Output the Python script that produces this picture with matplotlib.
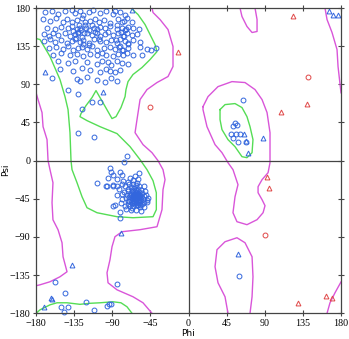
import matplotlib
matplotlib.use("Agg")
import matplotlib.pyplot as plt

# general residues (blue circles)
beta_phi = [-169, -161, -154, -146, -138, -134, -128, -124, -118, -113, -104, -97, -89, -87, -81, -75,
            -172, -163, -156, -148, -144, -138, -132, -126, -122, -116, -110, -106, -100, -93, -83, -79, -76, -73, -67,
            -167, -158, -150, -142, -138, -132, -128, -122, -118, -112, -108, -104, -98, -93, -85, -79, -75, -71, -65, -59,
            -171, -165, -160, -154, -146, -140, -134, -130, -126, -120, -114, -108, -104, -99, -95, -89, -83, -77, -73, -67, -61,
            -171, -163, -158, -150, -144, -138, -134, -128, -124, -118, -112, -104, -97, -91, -85, -81, -75, -71, -65, -57,
            -165, -156, -148, -142, -136, -130, -126, -120, -114, -108, -100, -93, -87, -81, -77, -71, -57, -49, -44, -38,
            -160, -150, -140, -132, -124, -116, -108, -102, -97, -89, -83, -77, -73, -65, -55,
            -154, -142, -134, -120, -108, -102, -95, -91, -85, -79, -71,
            -152, -136, -126, -116, -104, -97, -93, -87, -81,
            -161, -132, -128, -120, -108, -98, -91, -85,
            -142, -130, -114, -104, -126, -130, -112,
            -136, -131, -127, -123, -133, -129, -121, -125, -84, -80, -76, -72, -82, -78, -74, -86, -110, -114, -106, -118]
beta_psi = [175, 177, 173, 176, 178, 174, 177, 172, 175, 178, 174, 176, 173, 177, 175, 172,
            167, 165, 168, 164, 167, 163, 166, 168, 163, 165, 167, 164, 166, 162, 167, 163, 165, 168, 164,
            157, 155, 158, 156, 159, 155, 157, 160, 154, 157, 155, 158, 156, 159, 155, 157, 154, 158, 156, 155,
            149, 147, 150, 148, 151, 147, 149, 152, 146, 150, 148, 151, 147, 149, 152, 148, 150, 147, 151, 148, 149,
            141, 143, 140, 142, 139, 141, 144, 140, 142, 139, 143, 141, 140, 142, 139, 143, 141, 138, 142, 140,
            133, 134, 132, 135, 131, 133, 134, 132, 135, 131, 133, 134, 132, 135, 131, 133, 134, 132, 131, 133,
            125, 127, 124, 126, 123, 126, 124, 127, 125, 123, 126, 124, 127, 125, 124,
            118, 115, 117, 116, 114, 118, 116, 113, 117, 115, 114,
            108, 106, 109, 107, 105, 108, 106, 104, 107,
            98, 96, 94, 99, 95, 93, 97, 94,
            83, 79, 69, 69, 61, 33, 28,
            153, 150, 154, 151, 145, 160, 157, 137, 160, 152, 147, 139, 134, 130, 155, 142, 152, 160, 144, 136]

alpha_phi = [-73, -76, -93, -91, -89, -95, -108, -96, -89, -85, -59, -63, -89, -81, -49, -81, -79, -85, -77, -69,
             -61, -53, -51, -87, -81, -75, -67, -57, -49, -97, -89,
             -75, -72, -70, -68, -66, -64, -62, -60, -58, -56,
             -76, -73, -71, -69, -67, -65, -63, -61, -59, -57, -55, -53,
             -74, -72, -70, -68, -66, -64, -62, -60, -58, -56, -54, -52,
             -71, -69, -67, -65, -63, -61, -59, -57, -55,
             -66, -64, -62, -60, -65, -63, -61, -67, -59, -64, -62, -58, -70,
             -78, -79, -80, -74, -68, -62, -56, -52, -50, -48,
             -84, -82, -78, -72, -66, -60,
             -65, -63, -61, -59, -57, -64, -62, -60, -58, -66, -68, -56, -62, -60]
alpha_psi = [6, -1, -9, -13, -17, -20, -26, -30, -30, -30, -15, -18, -53, -68, -49, -13, -17, -22, -24, -20,
             -26, -30, -36, -52, -60, -54, -56, -52, -46, -30, -29,
             -30, -33, -28, -31, -27, -32, -29, -33, -30, -35,
             -37, -40, -36, -39, -35, -38, -36, -40, -37, -41, -38, -42,
             -44, -47, -43, -46, -42, -45, -43, -47, -44, -48, -45, -49,
             -51, -54, -50, -53, -49, -52, -50, -55, -51,
             -40, -41, -46, -42, -47, -39, -44, -44, -46, -50, -38, -40, -48,
             -45, -39, -50, -57, -58, -58, -59, -55, -40, -44,
             -40, -34, -28, -25, -23, -22,
             -43, -45, -41, -43, -46, -48, -50, -39, -48, -36, -41, -43, -35, -52]

other_phi = [-157.6, -145.8, -150.8, -142.6, -147, -121, -111.2, -96.6, -93.8, -91.8, -84.8,
             64.7, 54.9, 56.9, 52.9, 49.8, 56.1, 60.8, 52.2, 58.8, 67.9, 60]
other_psi = [-142.5, -156.2, -172, -172.7, -177.9, -166.1, -175.9, -171.2, -169.6, -169.1, -145.5,
             71.2, 44.5, 42.5, 40.5, 31.5, 31.9, 31.5, 26.8, 22.1, 21.6, -136.6]

# glycine (blue triangles)
gly_phi = [-169.4, -67, -101.3, -80, -137.2, -162.3, -161.5, -170.2, 165.8, 170.9, 176.1, 69.9, 88.3, 65.9, 67.9, 58.8]
gly_psi = [104.2, 178.2, 80.6, -85.3, -122.8, -161.4, -163.2, -172, 176.2, 172.3, 171.2, 9.1, 26.8, 31.9, 22.8, -109.8]

# outliers (red)
out_circ_phi = [-45.4, 141.4, 90.3]
out_circ_psi = [63.4, 98.8, -87.3]
out_tri_phi = [123.7, -12, 139.5, 108.8, 92.3, 95.4, 129.6, 162, 169.7]
out_tri_psi = [170.3, 127.8, 67.3, 57, -19.2, -32.2, -168, -159.3, -161.4]

# contour lines (phi, psi vertices)
green_core = [(-67.9, 180), (-59.6, 172.3), (-51.3, 160.5), (-45.4, 148.7), (-39.5, 136.9), (-37.2, 128.6),
              (-45.4, 119.2), (-54.9, 109.8), (-65.5, 101.6), (-71.4, 93.2), (-73.8, 83.8), (-74.9, 75.5),
              (-79.7, 62.6), (-85.6, 51.9), (-90.3, 49.6), (-99.7, 66.1), (-109.2, 82.6), (-113.9, 74.4),
              (-121, 64.9), (-126.9, 55.5), (-128.1, 51.9), (-119.8, 47.2), (-104.5, 40.1), (-84.4, 31.9),
              (-69, 16.5), (-57.2, 1.2), (-49, -10.6), (-41.9, -23.6), (-38, -37.8), (-38, -57.8),
              (-41.9, -66.1), (-65.5, -67.3), (-84.4, -66.1), (-108, -61.4), (-119.8, -55.5), (-125.7, -42.5),
              (-131.6, -26), (-137.5, -10.6), (-138.7, 0), (-139.9, 33), (-142.2, 60.2), (-145.8, 75.5),
              (-151.7, 95.6), (-163.5, 122.8), (-175.3, 142.8), (-180, 144)]
green_bottom = [(-180, -180), (-175.3, -175.9), (-163.5, -170), (-155.2, -167.6), (-143.4, -167.6),
                (-128.1, -169.4), (-116.3, -168.2), (-104.5, -167.6), (-89.1, -166.4), (-79.7, -167.6),
                (-72.6, -172.3), (-66.7, -180)]
green_left = [(37.2, 60.2), (43.1, 66.1), (54.9, 67.3), (63.1, 62.6), (69, 51.9), (72.6, 40.1), (76.1, 24.8),
              (75, 9.4), (69, 3.5), (63.1, 4.7), (54.9, 16.5), (46.6, 24.8), (39.5, 36.6), (37.2, 48.4), (37.2, 60.2)]

mag_left = [(-180, 80.3), (-177.6, 72), (-172.9, 56.7), (-171.7, 40.1), (-167, 24.8), (-165.8, 0), (-163.5, -10.6),
            (-160, -26), (-161.1, -49.6), (-160, -69.7), (-154, -81.5), (-149.3, -96.8), (-148.1, -113.3),
            (-143.4, -131), (-151.7, -136.9), (-163.5, -142.8), (-175.3, -146.4), (-180, -147.5)]
mag_mid = [(-43.1, 180), (-41.9, 174.7), (-33.6, 166.4), (-24.2, 154.6), (-18.3, 134.6), (-18.3, 111),
           (-24.2, 99.2), (-37.2, 92.1), (-49, 83.8), (-57.2, 72), (-60.8, 48.4), (-63.1, 33), (-53.7, 18.9),
           (-43.1, 9.4), (-36, 0), (-30.1, -10.6), (-27.7, -22.4), (-30.1, -34.2), (-31.3, -57.8),
           (-37.2, -77.9), (-57.2, -81.4), (-78.5, -83.8), (-86.8, -89.7), (-90.3, -101.5), (-92.7, -116.9),
           (-96.2, -132.2), (-95, -144), (-84.4, -152.3), (-65.5, -160.5), (-53.7, -167.6), (-43.1, -180)]
mag_top = [(60.8, 180), (63.1, 170), (69, 158.2), (75, 151.1), (80.9, 152.3), (80.9, 166.4), (78.5, 180)]
mag_bottom = [(46.6, -180), (43.1, -160.5), (34.8, -144), (31.3, -125.1), (33.6, -105), (43.1, -95.6),
              (57.2, -90.9), (66.7, -96.8), (75, -113.3), (76.1, -136.9), (75, -160.5), (72.6, -180)]
mag_lalpha = [(17.1, 63.7), (23, 75.5), (34.8, 87.3), (51.3, 93.2), (66.7, 92.1), (78.5, 83.8), (86.8, 72),
              (92.7, 56.7), (96.2, 33), (96.2, 13), (96.2, -2.4), (93.9, -14.2), (86.8, -22.4), (82.1, -30.7),
              (82.1, -37.8), (86.8, -46), (90.3, -53.1), (88, -61.4), (80.9, -69.6), (69, -75.5), (57.2, -72),
              (52.5, -61.4), (54.9, -42.5), (58.4, -28.3), (52.5, -10.6), (46.6, -2.4), (39.5, 9.4),
              (31.3, 18.9), (21.8, 40.1), (17.1, 60.2), (17.1, 63.7)]
mag_right_top = [(161.1, 180), (163.5, 166.4), (169.4, 151.1), (175.3, 131), (176.5, 111), (180, 80)]
mag_right_bottom = [(180, -143), (172.9, -155.8), (167, -167.6), (163.5, -180)]

ticks = [-180, -135, -90, -45, 0, 45, 90, 135, 180]

GREEN = '#55dd55'
MAGENTA = '#d955d9'
BLUE = '#3366dd'
RED = '#e04848'

fig = plt.figure(figsize=(3.49, 3.39), dpi=100)
ax = fig.add_axes([0.1032, 0.0758, 0.8739, 0.9006])

for line in [green_core, green_bottom, green_left]:
    ax.plot([p[0] for p in line], [p[1] for p in line], color=GREEN, lw=1.0)
for line in [mag_left, mag_mid, mag_top, mag_bottom, mag_lalpha, mag_right_top, mag_right_bottom]:
    ax.plot([p[0] for p in line], [p[1] for p in line], color=MAGENTA, lw=1.0)

ax.axhline(0, color='#444444', lw=0.9)
ax.axvline(0, color='#444444', lw=0.9)

mk = dict(linestyle='none', markerfacecolor='none', markersize=3.5, markeredgewidth=0.7, clip_on=False)
ax.plot(beta_phi, beta_psi, marker='o', markeredgecolor=BLUE, **mk)
ax.plot(alpha_phi, alpha_psi, marker='o', markeredgecolor=BLUE, **mk)
ax.plot(other_phi, other_psi, marker='o', markeredgecolor=BLUE, **mk)
ax.plot(gly_phi, gly_psi, marker='^', markeredgecolor=BLUE, **mk)
ax.plot(out_circ_phi, out_circ_psi, marker='o', markeredgecolor=RED, **mk)
ax.plot(out_tri_phi, out_tri_psi, marker='^', markeredgecolor=RED, **mk)

ax.set_xlim(-180, 180)
ax.set_ylim(-180, 180)
ax.set_xticks(ticks)
ax.set_yticks(ticks)
for s in ax.spines.values():
    s.set_color('#444444')
    s.set_linewidth(0.9)
ax.tick_params(axis='both', which='both', direction='inout', length=4, width=0.8, color='#444444',
               top=True, right=True, labelsize=7.2, pad=2)
for lab in ax.get_xticklabels() + ax.get_yticklabels():
    lab.set_family('Liberation Serif')

fig.text(6 / 349, 0.5, 'Psi', rotation=90, ha='center', va='center', fontsize=6.5)
fig.text(188 / 349, 0.004, 'Phi', ha='center', va='bottom', fontsize=6.5)

fig.savefig('out.png', dpi=100)
